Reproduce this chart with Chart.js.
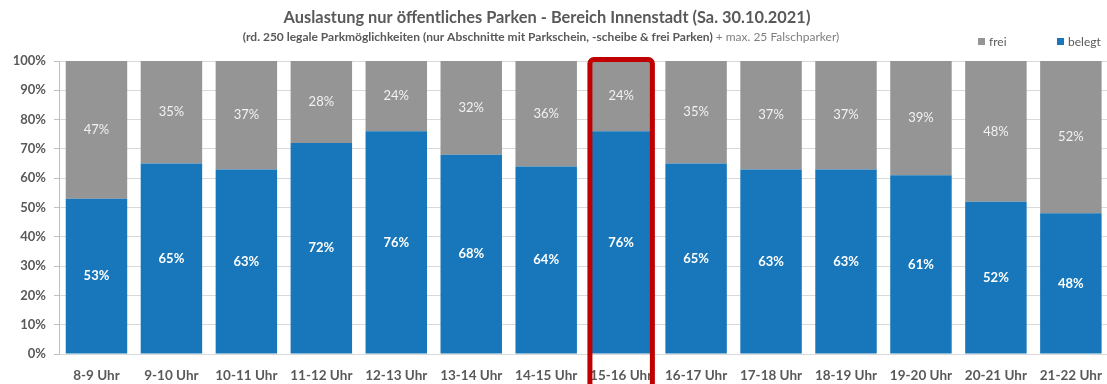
<!DOCTYPE html>
<html>
<head>
<meta charset="utf-8">
<script src="https://cdn.jsdelivr.net/npm/chart.js@4.4.1/dist/chart.umd.min.js"></script>
<style>
  html, body { margin: 0; padding: 0; background: #fff; overflow: hidden; }
  canvas { display: block; }
</style>
</head>
<body>
<canvas id="graficoParken" width="1116" height="384" style="width:1116px;height:384px"></canvas>
<script>
const stunden = ['8-9 Uhr', '9-10 Uhr', '10-11 Uhr', '11-12 Uhr', '12-13 Uhr', '13-14 Uhr', '14-15 Uhr',
                 '15-16 Uhr', '16-17 Uhr', '17-18 Uhr', '18-19 Uhr', '19-20 Uhr', '20-21 Uhr', '21-22 Uhr'];
const belegt = [53, 65, 63, 72, 76, 68, 64, 76, 65, 63, 63, 61, 52, 48];
const frei   = [47, 35, 37, 28, 24, 32, 36, 24, 35, 37, 37, 39, 48, 52];
const markierteStunde = '15-16 Uhr';

const titel = 'Auslastung nur öffentliches Parken - Bereich Innenstadt (Sa. 30.10.2021)';
const untertitelFett = '(rd. 250 legale Parkmöglichkeiten (nur Abschnitte mit Parkschein, -scheibe & frei Parken) ';
const untertitelNormal = '+ max. 25 Falschparker)';

const BLAU = '#1777ba';
const GRAU = '#959595';
const TEXT = '#595959';
const FONT = 'Lato, "Open Sans", sans-serif';

// Titel, Untertitel, Legende, Werte in den Balken und der rote Rahmen
const extras = {
    id: 'extras',
    afterDatasetsDraw(chart) {
        const ctx = chart.ctx;
        const area = chart.chartArea;

        // Werte mittig in jedem Segment
        ctx.save();
        ctx.textAlign = 'center';
        ctx.textBaseline = 'middle';
        chart.data.datasets.forEach((ds, i) => {
            const meta = chart.getDatasetMeta(i);
            meta.data.forEach((bar, j) => {
                const mitte = (bar.y + bar.base) / 2;
                if (ds.label === 'belegt') {
                    ctx.font = 'bold 13px ' + FONT;
                    ctx.fillStyle = '#ffffff';
                } else {
                    ctx.font = '13px ' + FONT;
                    ctx.fillStyle = '#f2f2f2';
                }
                ctx.fillText(ds.data[j] + '%', bar.x, mitte);
            });
        });
        ctx.restore();

        // roter Rahmen um die markierte Stunde
        const idx = stunden.indexOf(markierteStunde);
        const bar = chart.getDatasetMeta(0).data[idx];
        const halb = bar.width / 2;
        ctx.save();
        ctx.strokeStyle = '#c00000';
        ctx.lineWidth = 5;
        ctx.beginPath();
        ctx.roundRect(bar.x - halb - 0.5, area.top - 1.5, halb * 2 + 1, 400, 4);
        ctx.stroke();
        ctx.restore();
    },
    afterDraw(chart) {
        const ctx = chart.ctx;
        ctx.save();
        ctx.textBaseline = 'middle';

        // Titel
        ctx.textAlign = 'center';
        ctx.font = 'bold 16.4px ' + FONT;
        ctx.fillStyle = TEXT;
        ctx.fillText(titel, 547, 18);

        // Untertitel: fetter Teil + normaler Teil
        ctx.font = 'bold 12px ' + FONT;
        const b1 = ctx.measureText(untertitelFett).width;
        ctx.font = '12px ' + FONT;
        const b2 = ctx.measureText(untertitelNormal).width;
        let x = 541 - (b1 + b2) / 2;
        ctx.textAlign = 'left';
        ctx.font = 'bold 12px ' + FONT;
        ctx.fillStyle = TEXT;
        ctx.fillText(untertitelFett, x, 37);
        ctx.font = '12px ' + FONT;
        ctx.fillStyle = '#7f7f7f';
        ctx.fillText(untertitelNormal, x + b1, 37);

        // Legende
        const eintraege = [
            { text: 'frei', farbe: GRAU, x: 978 },
            { text: 'belegt', farbe: BLAU, x: 1057 }
        ];
        ctx.font = '12px ' + FONT;
        eintraege.forEach(e => {
            ctx.fillStyle = e.farbe;
            ctx.fillRect(e.x, 38, 7, 7);
            ctx.fillStyle = TEXT;
            ctx.fillText(e.text, e.x + 11, 42);
        });
        ctx.restore();
    }
};

new Chart(document.getElementById('graficoParken'), {
    type: 'bar',
    data: {
        labels: stunden,
        datasets: [
            { label: 'belegt', data: belegt, backgroundColor: BLAU, categoryPercentage: 1, barPercentage: 0.82 },
            { label: 'frei', data: frei, backgroundColor: GRAU, categoryPercentage: 1, barPercentage: 0.82 }
        ]
    },
    options: {
        responsive: false,
        animation: false,
        devicePixelRatio: 1,
        layout: { padding: { top: 61, left: 0, right: 1, bottom: 0 } },
        plugins: {
            legend: { display: false },
            tooltip: { enabled: false },
            title: { display: false }
        },
        scales: {
            x: {
                stacked: true,
                grid: { display: false, drawTicks: false },
                border: { display: false },
                ticks: {
                    color: TEXT,
                    padding: 14,
                    maxRotation: 0,
                    autoSkip: false,
                    font: { family: FONT, size: 13.5, weight: 'bold' }
                },
                afterFit(s) { s.height = 30; }
            },
            y: {
                stacked: true,
                min: 0,
                max: 100,
                ticks: {
                    stepSize: 5,
                    color: TEXT,
                    padding: 8,
                    font: { family: FONT, size: 13, weight: 'bold' },
                    callback: v => (v % 10 === 0 ? v + '%' : '')
                },
                grid: {
                    color: c => (c.tick && c.tick.value % 10 === 0 ? '#d9d9d9' : 'rgba(0,0,0,0)'),
                    tickColor: '#bfbfbf',
                    tickLength: 5
                },
                border: { display: true, color: '#bfbfbf' },
                afterFit(s) { s.width = 59; }
            }
        }
    },
    plugins: [extras]
});
</script>
</body>
</html>
